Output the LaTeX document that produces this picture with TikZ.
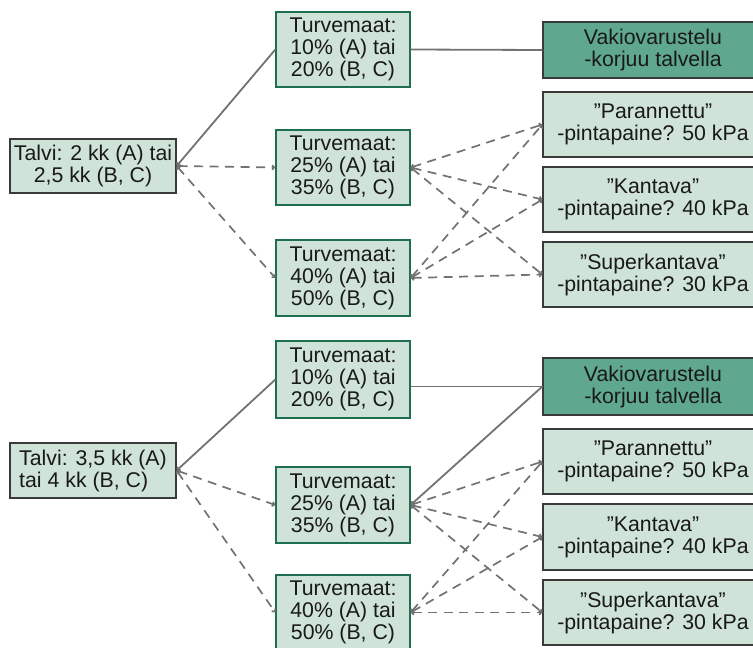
\documentclass[tikz,border=0pt]{standalone}
\usepackage{fontspec}
\setmainfont{Liberation Sans}
\usetikzlibrary{arrows.meta}
\definecolor{lightbox}{HTML}{D0E3D9}
\definecolor{darkbox}{HTML}{5FA78F}
\definecolor{greenedge}{HTML}{1E6E50}
\definecolor{grayedge}{HTML}{3A3A3A}
\definecolor{linegray}{HTML}{727272}
\tikzset{
  base/.style={draw, line width=1.3pt, rectangle, inner sep=0pt, align=center,
    font=\fontsize{21.3}{22}\selectfont, text=black!90},
  talvi/.style={base, draw=grayedge, fill=lightbox, minimum width=166pt, minimum height=54pt},
  turve/.style={base, draw=greenedge, fill=lightbox, minimum width=134pt, minimum height=75pt},
  vakio/.style={base, draw=grayedge, fill=darkbox, minimum width=220pt, minimum height=56pt},
  opt/.style={base, draw=grayedge, fill=lightbox, minimum width=220pt, minimum height=65pt},
  sol/.style={draw=linegray, line width=1.8pt},
  dsh/.style={draw=linegray, line width=1.7pt, dash pattern=on 9pt off 6.5pt},
}
\begin{document}
\begin{tikzpicture}[x=1pt,y=-1pt,>={Straight Barb[length=2pt,width=4.5pt]}]
\useasboundingbox (0,0) rectangle (753,648);
\clip (0,0) rectangle (753,648);
% ---------- top section ----------
\node[talvi] (A) at (93,166) {Talvi: 2 kk (A) tai\\2,5 kk (B, C)};
\node[turve] (A1) at (343,49.5) {Turvemaat:\\10\% (A) tai\\20\% (B, C)};
\node[turve] (A2) at (343,167.5) {Turvemaat:\\25\% (A) tai\\35\% (B, C)};
\node[turve, minimum height=76pt] (A3) at (343,278) {Turvemaat:\\40\% (A) tai\\50\% (B, C)};
\node[vakio] (AV) at (653,50) {Vakiovarustelu\\-korjuu talvella};
\node[opt] (AP) at (653,124.5) {”Parannettu”\\-pintapaine? 50 kPa};
\node[opt] (AK) at (653,199.5) {”Kantava”\\-pintapaine? 40 kPa};
\node[opt] (AS) at (653,274.5) {”Superkantava”\\-pintapaine? 30 kPa};
\path[sol,<-] (A.east) -- (A1.west);
\path[dsh,<->] (A.east) -- (A2.west);
\path[dsh,<->] (A.east) -- (A3.west);
\path[sol] (A1.east) -- (AV.west);
\path[dsh,<->] (A2.east) -- (AP.west);
\path[dsh,<->] (A2.east) -- (AK.west);
\path[dsh,<->] (A2.east) -- (AS.west);
\path[dsh,<->] (A3.east) -- (AP.west);
\path[dsh,<->] (A3.east) -- (AK.west);
\path[dsh,<->] (A3.east) -- (AS.west);
% ---------- bottom section ----------
\node[talvi, minimum height=55pt, align=left] (B) at (93,470.5) {Talvi: 3,5 kk (A)\\tai 4 kk (B, C)};
\node[turve, minimum height=77pt] (B1) at (343,379.5) {Turvemaat:\\10\% (A) tai\\20\% (B, C)};
\node[turve, minimum height=76pt] (B2) at (343,505) {Turvemaat:\\25\% (A) tai\\35\% (B, C)};
\node[turve] (B3) at (343,612.5) {Turvemaat:\\40\% (A) tai\\50\% (B, C)};
\node[vakio, minimum height=57pt] (BV) at (653,386.5) {Vakiovarustelu\\-korjuu talvella};
\node[opt] (BP) at (653,461.5) {”Parannettu”\\-pintapaine? 50 kPa};
\node[opt, minimum height=66pt] (BK) at (653,537) {”Kantava”\\-pintapaine? 40 kPa};
\node[opt] (BS) at (653,612.5) {”Superkantava”\\-pintapaine? 30 kPa};
\path[sol,<-] (B.east) -- (B1.west);
\path[dsh,<->] (B.east) -- (B2.west);
\path[dsh,<->] (B.east) -- (B3.west);
\path[sol] (B1.east |- BV.west) -- (BV.west);
\path[sol,<-] (B2.east) -- (BV.west);
\path[dsh,<->] (B2.east) -- (BP.west);
\path[dsh,<->] (B2.east) -- (BK.west);
\path[dsh,<->] (B2.east) -- (BS.west);
\path[dsh,<->] (B3.east) -- (BP.west);
\path[dsh,<->] (B3.east) -- (BK.west);
\path[dsh,<->] (B3.east) -- (BS.west);
\end{tikzpicture}
\end{document}
